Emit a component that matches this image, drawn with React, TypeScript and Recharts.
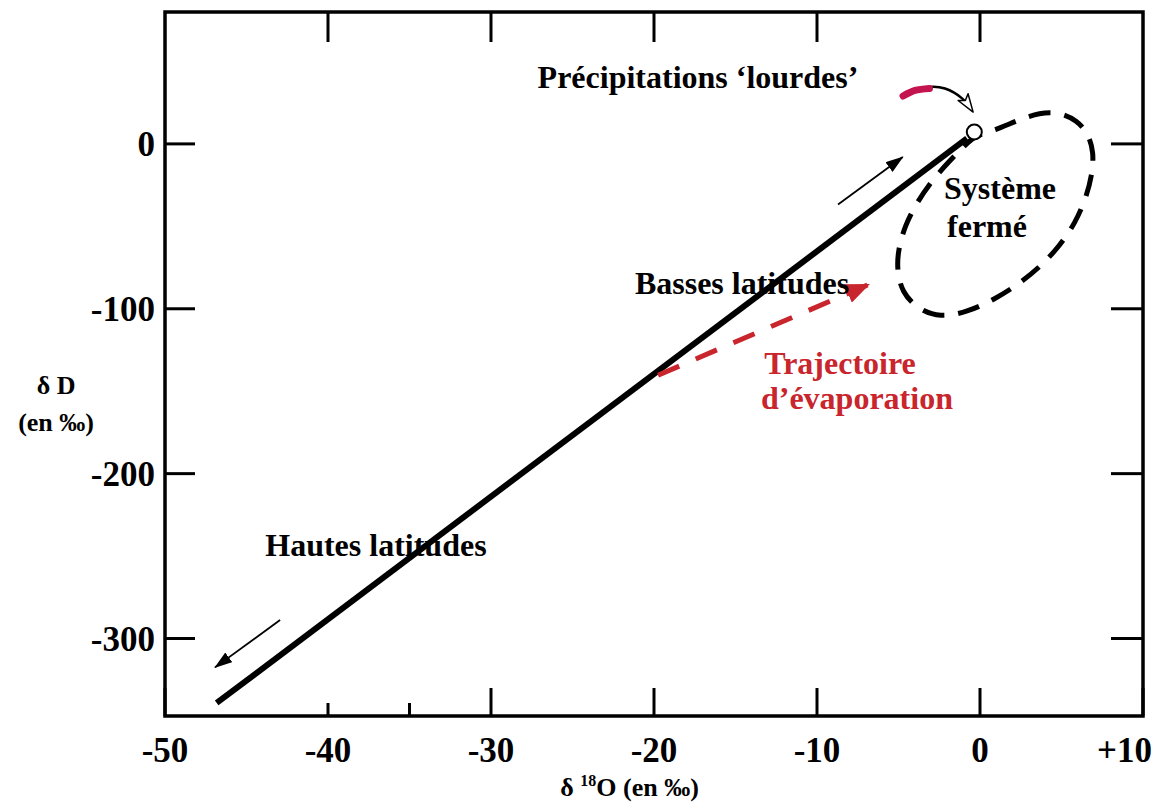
import React from "react";
import {
  ComposedChart,
  Line,
  XAxis,
  YAxis,
  ReferenceArea,
  ReferenceDot,
} from "recharts";

const FONT = '"Liberation Serif", "Times New Roman", serif';

const X_DOMAIN: [number, number] = [-50, 10];
const Y_DOMAIN: [number, number] = [-347, 80];
const X_TICKS = [-50, -40, -35, -30, -20, -10, 0, 10];
const X_LABELS: Record<number, string> = {
  [-50]: "-50",
  [-40]: "-40",
  [-30]: "-30",
  [-20]: "-20",
  [-10]: "-10",
  [0]: "0",
  [10]: "+10",
};
const SHORT_X_TICKS = [-40, -35];
const TOP_TICKS = [-40, -30, -20, -10, 0];
const Y_TICKS = [0, -100, -200, -300];

// droite des eaux météoriques
const meteoric = [
  { x: -46.83, y: -339.1 },
  { x: -0.8, y: 3.3 },
];
const evaporation = [
  { x: -19.75, y: -140.3 },
  { x: -6.81, y: -85.2 },
];
const arrowLow = [
  { x: -8.71, y: -36.7 },
  { x: -4.74, y: -8.0 },
];
const arrowHigh = [
  { x: -42.94, y: -288.8 },
  { x: -46.93, y: -317.5 },
];
const precipCurve = [
  { x: -4.79, y: 29.4 },
  { x: -3.37, y: 34.2 },
  { x: -2.15, y: 33.6 },
  { x: -1.1, y: 27.6 },
  { x: -0.49, y: 20.3 },
];
const precipTail = [
  { x: -4.72, y: 29.0 },
  { x: -3.99, y: 32.4 },
  { x: -3.1, y: 33.6 },
];
const closedSystem = [
  { x: -0.31, y: 5.2 },
  { x: 0.92, y: 8.2 },
  { x: 2.27, y: 14.2 },
  { x: 3.68, y: 19.1 },
  { x: 4.91, y: 19.1 },
  { x: 5.95, y: 14.2 },
  { x: 6.63, y: 6.4 },
  { x: 6.99, y: -5.2 },
  { x: 6.87, y: -19.1 },
  { x: 6.5, y: -33.0 },
  { x: 5.83, y: -48.2 },
  { x: 4.91, y: -61.5 },
  { x: 3.8, y: -73.6 },
  { x: 2.45, y: -84.5 },
  { x: 0.92, y: -94.2 },
  { x: -0.8, y: -102.1 },
  { x: -2.45, y: -105.2 },
  { x: -3.8, y: -100.3 },
  { x: -4.79, y: -90.0 },
  { x: -5.09, y: -76.7 },
  { x: -5.03, y: -64.5 },
  { x: -4.6, y: -49.4 },
  { x: -3.87, y: -35.5 },
  { x: -2.94, y: -22.1 },
  { x: -1.84, y: -10.0 },
  { x: -1.04, y: -2.1 },
];
const sample = { x: -0.35, y: 7.2 };

const notes = [
  { text: "Précipitations ‘lourdes’", x: -17.3, y: 40.9, color: "#000" },
  { text: "Système", x: 1.23, y: -26.4, color: "#000" },
  { text: "fermé", x: 0.43, y: -49.4, color: "#000" },
  { text: "Basses latitudes", x: -14.6, y: -83.9, color: "#000" },
  { text: "Trajectoire", x: -8.59, y: -132.4, color: "#c9252d" },
  { text: "d’évaporation", x: -7.55, y: -154.2, color: "#c9252d" },
  { text: "Hautes latitudes", x: -37.06, y: -243.3, color: "#000" },
];

const BottomTick = (props: any) => {
  const { x, y, payload } = props;
  const v = payload.value;
  const len = SHORT_X_TICKS.includes(v) ? 13 : 28;
  const last = v === X_DOMAIN[1];
  return (
    <g>
      <line x1={x} y1={y} x2={x} y2={y - len} stroke="#000" strokeWidth={3} />
      {X_LABELS[v] !== undefined && (
        <text
          x={last ? x + 9 : x}
          y={y + 34}
          dy="0.35em"
          textAnchor={last ? "end" : "middle"}
          fontSize={35}
          fontWeight="bold"
          fontFamily={FONT}
          fill="#000"
        >
          {X_LABELS[v]}
        </text>
      )}
    </g>
  );
};

const TopTick = (props: any) => (
  <line x1={props.x} y1={props.y} x2={props.x} y2={props.y + 30} stroke="#000" strokeWidth={3} />
);

const LeftTick = (props: any) => {
  const { x, y, payload } = props;
  return (
    <g>
      <line x1={x} y1={y} x2={x + 30} y2={y} stroke="#000" strokeWidth={3} />
      <text
        x={x - 10}
        y={y}
        dy="0.35em"
        textAnchor="end"
        fontSize={35}
        fontWeight="bold"
        fontFamily={FONT}
        fill="#000"
      >
        {payload.value}
      </text>
    </g>
  );
};

const RightTick = (props: any) => (
  <line x1={props.x} y1={props.y} x2={props.x - 32} y2={props.y} stroke="#000" strokeWidth={3} />
);

const YTitle = (props: any) => {
  const { x, y, width, height } = props.viewBox;
  const cx = x + width * 0.34;
  const cy = y + height * 0.53;
  return (
    <text textAnchor="middle" fontSize={26} fontWeight="bold" fontFamily={FONT} fill="#000">
      <tspan x={cx} y={cy} dy="0.35em">δ D</tspan>
      <tspan x={cx} y={cy + 37} dy="0.35em">(en ‰)</tspan>
    </text>
  );
};

const XTitle = (props: any) => {
  const { x, y, width } = props.viewBox;
  return (
    <text
      x={x + width * 0.475}
      y={y + 80}
      textAnchor="middle"
      fontSize={26}
      fontWeight="bold"
      fontFamily={FONT}
      fill="#000"
    >
      <tspan>δ </tspan>
      <tspan fontSize={16} dy={-10}>18</tspan>
      <tspan dy={10}>O (en ‰)</tspan>
    </text>
  );
};

export default function App() {
  return (
    <div style={{ position: "absolute", left: 0, top: 0, background: "#fff", fontFamily: FONT }}>
      <ComposedChart width={1158} height={803} margin={{ top: 0, right: 0, bottom: 0, left: 0 }}>
        <defs>
          <marker id="headBlack" viewBox="0 0 18 12" markerWidth={18} markerHeight={12} refX={17} refY={6} orient="auto" markerUnits="userSpaceOnUse">
            <path d="M0,0 L18,6 L0,12 z" fill="#000" />
          </marker>
          <marker id="headRed" viewBox="0 0 24 20" markerWidth={24} markerHeight={20} refX={23} refY={10} orient="auto" markerUnits="userSpaceOnUse">
            <path d="M0,0 L24,10 L0,20 z" fill="#c9252d" />
          </marker>
          <marker id="headWhite" viewBox="-2 -2 22 16" markerWidth={22} markerHeight={16} refX={16} refY={6} orient="auto" markerUnits="userSpaceOnUse">
            <path d="M0,0 L18,6 L0,12 L4,6 z" fill="#fff" stroke="#000" strokeWidth={1.5} strokeLinejoin="round" />
          </marker>
        </defs>
        <XAxis
          dataKey="x"
          type="number"
          domain={X_DOMAIN}
          ticks={X_TICKS}
          allowDataOverflow
          interval={0}
          height={87}
          tickSize={0}
          tickMargin={0}
          tickLine={false}
          axisLine={false}
          tick={BottomTick}
          label={XTitle}
        />
        <XAxis
          xAxisId="top"
          orientation="top"
          dataKey="x"
          type="number"
          domain={X_DOMAIN}
          ticks={TOP_TICKS}
          allowDataOverflow
          interval={0}
          height={12}
          tickSize={0}
          tickMargin={0}
          tickLine={false}
          axisLine={false}
          tick={TopTick}
        />
        <YAxis
          dataKey="y"
          type="number"
          domain={Y_DOMAIN}
          ticks={Y_TICKS}
          allowDataOverflow
          interval={0}
          width={165}
          tickSize={0}
          tickMargin={0}
          tickLine={false}
          axisLine={false}
          tick={LeftTick}
          label={YTitle}
        />
        <YAxis
          yAxisId="right"
          orientation="right"
          dataKey="y"
          type="number"
          domain={Y_DOMAIN}
          ticks={Y_TICKS}
          allowDataOverflow
          interval={0}
          width={15}
          tickSize={0}
          tickMargin={0}
          tickLine={false}
          axisLine={false}
          tick={RightTick}
        />
        <ReferenceArea
          x1={X_DOMAIN[0]}
          x2={X_DOMAIN[1]}
          y1={Y_DOMAIN[0]}
          y2={Y_DOMAIN[1]}
          fill="none"
          fillOpacity={0}
          stroke="#000"
          strokeWidth={3.5}
          ifOverflow="visible"
        />
        <Line data={meteoric} dataKey="y" stroke="#000" strokeWidth={6} dot={false} activeDot={false} isAnimationActive={false} />
        <Line data={closedSystem} dataKey="y" type="basisClosed" stroke="#000" strokeWidth={5} strokeDasharray="22 14" dot={false} activeDot={false} isAnimationActive={false} />
        <Line data={evaporation} dataKey="y" stroke="#c9252d" strokeWidth={5} strokeDasharray="23 18" markerEnd="url(#headRed)" dot={false} activeDot={false} isAnimationActive={false} />
        <Line data={arrowLow} dataKey="y" stroke="#000" strokeWidth={1.8} markerEnd="url(#headBlack)" dot={false} activeDot={false} isAnimationActive={false} />
        <Line data={arrowHigh} dataKey="y" stroke="#000" strokeWidth={1.8} markerEnd="url(#headBlack)" dot={false} activeDot={false} isAnimationActive={false} />
        <Line data={precipCurve} dataKey="y" type="natural" stroke="#000" strokeWidth={2.5} markerEnd="url(#headWhite)" dot={false} activeDot={false} isAnimationActive={false} />
        <Line data={precipTail} dataKey="y" type="natural" stroke="#c41450" strokeWidth={7} strokeLinecap="round" dot={false} activeDot={false} isAnimationActive={false} />
        <ReferenceDot x={sample.x} y={sample.y} r={7.5} fill="#fff" stroke="#000" strokeWidth={2} />
        {notes.map((n) => (
          <ReferenceDot
            key={n.text}
            x={n.x}
            y={n.y}
            r={0}
            stroke="none"
            fill="none"
            label={{
              value: n.text,
              position: "center",
              fill: n.color,
              fontSize: 32,
              fontWeight: "bold",
              fontFamily: FONT,
            }}
          />
        ))}
      </ComposedChart>
    </div>
  );
}
